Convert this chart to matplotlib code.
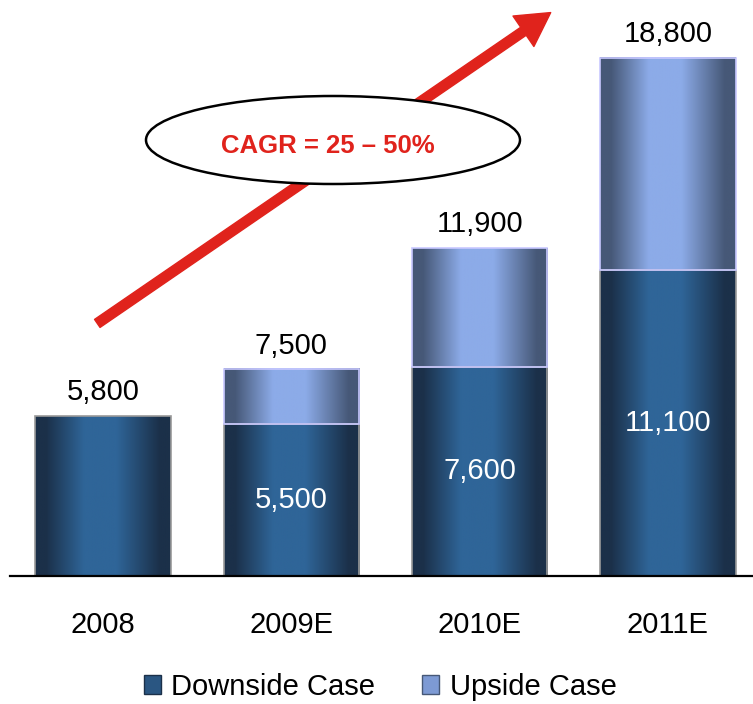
import matplotlib
matplotlib.use('Agg')
import numpy as np
from matplotlib import pyplot as plt
from matplotlib.colors import LinearSegmentedColormap
from matplotlib.patches import Ellipse, Patch, FancyArrowPatch

plt.rcParams['font.family'] = ['Liberation Sans', 'DejaVu Sans']

# data
years = ['2008', '2009E', '2010E', '2011E']
downside = [5800, 5500, 7600, 11100]
upside_total = [5800, 7500, 11900, 18800]
cagr_text = 'CAGR = 25 \u2013 50%'


def shade_cmap(dark, light):
    stops = [(0.0, dark), (0.08, dark), (0.36, light), (0.6, light), (0.92, dark), (1.0, dark)]
    return LinearSegmentedColormap.from_list('shade', stops)


down_cmap = shade_cmap('#1b3049', '#2f6598')
up_cmap = shade_cmap('#465877', '#8cabe8')
grad = np.linspace(0, 1, 256).reshape(1, -1)

fig = plt.figure(figsize=(7.53, 7.04), dpi=100)
ax = fig.add_axes([10 / 753, 128 / 704, 743 / 753, 576 / 704])

width = 0.72
x = np.arange(len(years))
for xi, lo, hi in zip(x, downside, upside_total):
    # downside segment
    ax.imshow(grad, cmap=down_cmap, extent=[xi - width / 2, xi + width / 2, 0, lo],
              aspect='auto', zorder=2)
    ax.add_patch(plt.Rectangle((xi - width / 2, 0), width, lo, fill=False,
                               edgecolor='#9a9a9a', lw=1.2, zorder=3))
    if hi > lo:
        ax.imshow(grad, cmap=up_cmap, extent=[xi - width / 2, xi + width / 2, lo, hi],
                  aspect='auto', zorder=2)
        ax.add_patch(plt.Rectangle((xi - width / 2, lo), width, hi - lo, fill=False,
                                   edgecolor='#c8c8ff', lw=1.2, zorder=3))
        ax.text(xi, lo / 2, '{:,}'.format(lo), ha='center', va='center',
                color='white', fontsize=21, zorder=4)
    ax.annotate('{:,}'.format(hi), (xi, hi), xytext=(0, 7), textcoords='offset points',
                ha='center', va='bottom', fontsize=21, color='black')

ax.set_xlim(-0.494, 3.452)
ax.set_ylim(0, 20900)
ax.set_xticks(x)
ax.set_xticklabels(years, fontsize=21)
ax.tick_params(axis='x', length=0, pad=25)
ax.set_yticks([])
for side in ['left', 'right', 'top']:
    ax.spines[side].set_visible(False)
ax.spines['bottom'].set_linewidth(1.6)
ax.spines['bottom'].set_zorder(5)

# growth arrow
arrow = FancyArrowPatch((95, 379), (553, 693), transform=None,
                        arrowstyle='simple,head_length=1.7,head_width=1.9,tail_width=0.5',
                        mutation_scale=14, color='#e0231c', zorder=6)
fig.add_artist(arrow)

ell = Ellipse((333, 704 - 140), 374, 88, transform=None, facecolor='white',
              edgecolor='black', lw=1.8, zorder=7)
fig.add_artist(ell)
fig.text(328 / 753, (704 - 146) / 704, cagr_text, ha='center', va='center',
         fontsize=18.5, fontweight='bold', color='#e0231c', zorder=8)

handles = [Patch(facecolor='#2a5682', edgecolor='#1b3049', label='Downside Case'),
           Patch(facecolor='#7d9ad4', edgecolor='#465877', label='Upside Case')]
fig.legend(handles=handles, loc='center', bbox_to_anchor=(380 / 753, (704 - 687) / 704),
           ncol=2, frameon=False, fontsize=21, handlelength=0.6, handleheight=0.6,
           handletextpad=0.35, columnspacing=1.6)

fig.savefig('out.png', dpi=100)
